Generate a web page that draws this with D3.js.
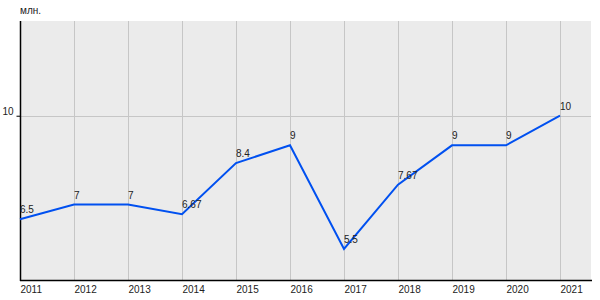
<!DOCTYPE html>
<html><head><meta charset="utf-8">
<script src="https://cdn.jsdelivr.net/npm/d3@7"></script>
<style>body{margin:0;background:#fff;} text{font-family:"Liberation Sans",Arial,sans-serif;}</style>
</head><body>
<svg id="c" width="600" height="300"></svg>
<script>
const years = [2011,2012,2013,2014,2015,2016,2017,2018,2019,2020,2021];
const values = [6.5,7,7,6.67,8.4,9,5.5,7.67,9,9,10];
const labels = ["6.5","7","7","6.67","8.4","9","5.5","7.67","9","9","10"];
const yTicks = [10];
const unitLabel = "млн.";

const svg = d3.select("#c");
const L = 20, R = 591, T = 21, B = 280;
const x = d3.scaleLinear().domain([2011, 2021]).range([L, 560]);
const y = d3.scaleLinear().domain([4.45, 13.2]).range([B, T]);

svg.append("rect").attr("x", L).attr("y", T).attr("width", R - L).attr("height", B - T).attr("fill", "#ebebeb");

// grid
svg.append("g").selectAll("line").data(years).join("line")
  .attr("x1", d => Math.round(x(d)) + 0.5).attr("x2", d => Math.round(x(d)) + 0.5)
  .attr("y1", T).attr("y2", B).attr("stroke", "#c6c6c6").attr("stroke-width", 1);
svg.append("g").selectAll("line").data(yTicks).join("line")
  .attr("x1", L).attr("x2", R)
  .attr("y1", d => Math.round(y(d)) + 0.5).attr("y2", d => Math.round(y(d)) + 0.5)
  .attr("stroke", "#c6c6c6").attr("stroke-width", 1);

// y axis
const ya = svg.append("g").attr("transform", `translate(${L + 0.5},0)`)
  .call(d3.axisLeft(y).tickValues(yTicks).tickSize(4).tickPadding(3).tickFormat(d3.format("d")));
ya.select(".domain").remove();
ya.selectAll("line").attr("stroke", "#000");
ya.selectAll("text").attr("font-size", 10).attr("fill", "#222").attr("dy", "-0.1em")
  .style("font-family", '"Liberation Sans",Arial,sans-serif');
svg.append("line").attr("x1", L + 0.5).attr("x2", L + 0.5).attr("y1", T).attr("y2", B + 1)
  .attr("stroke", "#000").attr("stroke-width", 1.5);

// x axis
const xa = svg.append("g").attr("transform", `translate(0,${B})`)
  .call(d3.axisBottom(x).tickValues(years).tickSize(0).tickPadding(6).tickFormat(d3.format("d")));
xa.select(".domain").remove();
xa.selectAll("text").attr("font-size", 10).attr("fill", "#222").attr("text-anchor", "start")
  .style("font-family", '"Liberation Sans",Arial,sans-serif');
svg.append("line").attr("x1", L).attr("x2", R + 1).attr("y1", B + 0.5).attr("y2", B + 0.5)
  .attr("stroke", "#000").attr("stroke-width", 1.5);

// line
const line = d3.line().x((d, i) => x(years[i])).y(d => y(d));
svg.append("path").datum(values).attr("d", line).attr("fill", "none")
  .attr("stroke", "#0050f0").attr("stroke-width", 2);

// labels
svg.append("g").selectAll("text").data(values).join("text")
  .attr("x", (d, i) => x(years[i])).attr("y", d => y(d) - 6)
  .attr("font-size", 10).attr("fill", "#222").text((d, i) => labels[i]);

svg.append("text").attr("x", L).attr("y", 14).attr("font-size", 10).attr("fill", "#222").text(unitLabel);
</script>
</body></html>
